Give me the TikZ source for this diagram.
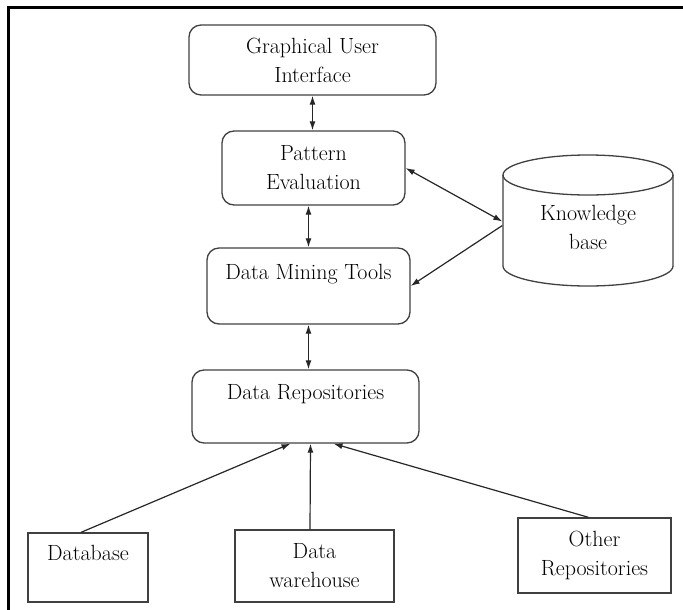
\documentclass[tikz,border=0pt]{standalone}
\usetikzlibrary{arrows.meta}

\begin{document}
\begin{tikzpicture}[
		x=1pt, y=-1pt,
		block/.style={rectangle,rounded corners=12pt,draw=black!75,line width=1.3pt,
		align=center,inner sep=0pt,font=\fontsize{22}{29}\selectfont},
		source/.style={block,rounded corners=0pt},
		link/.style={>={Latex[length=9pt,width=6pt]},draw=black!85,line width=1.2pt,->}
		]
		\useasboundingbox (0,0) rectangle (683,610);
		\draw[line width=3pt] (8,610) -- (8,8) -- (683,8);
		% stack of blocks
		\node[block, minimum width=247, minimum height=70] (gui) at (312.5,60) 
			{Graphical User\\Interface};
		\node[block, minimum width=183, minimum height=74] (pattern) at (313.5,168) 
			{Pattern\\Evaluation};
		\node[block, minimum width=203, minimum height=76] (mining) at (308.5,286) 
			{Data Mining Tools\\~};
		\node[block, minimum width=227, minimum height=73] (repo) at (305.5,406.5) 
			{Data Repositories\\~};
		% knowledge base cylinder
		\draw[draw=black!75, line width=1.3pt] (503,175) -- (503,266) 
			arc[start angle=180, end angle=0, x radius=85, y radius=20] -- (673,175);
		\draw[draw=black!75, line width=1.3pt] (588,175) ellipse [x radius=85, y radius=20];
		\node[block, draw=none, minimum width=170] (kb) at (588,227.5) 
			{Knowledge\\base};
		% sources
		\node[source, minimum width=120, minimum height=69] (db) at (88,567.5) 
			{Database\\~};
		\node[source, minimum width=159, minimum height=72] (dw) at (314.5,566) 
			{Data\\warehouse};
		\node[source, minimum width=153, minimum height=75] (other) at (594.5,555.5) 
			{Other\\Repositories};
		% connectors
		\draw[link, <->] (gui.south) -- (gui.south |- pattern.north);
		\draw[link, <->] (pattern.south -| mining.north) -- (mining.north);
		\draw[link, <->] (mining.south) -- (mining.south |- repo.north);
		\draw[link, <->] (pattern.east) -- ([yshift=6]kb.west);
		\draw[link] ([yshift=2]kb.west) -- (mining.east);
		\draw[link] ([xshift=-7]db.north) -- ([xshift=-15]repo.south);
		\draw[link] ([xshift=-4.5]dw.north) -- ([xshift=5]repo.south);
		\draw[link] ([xshift=-6]other.north) -- ([xshift=28]repo.south);
	\end{tikzpicture}
\end{document}
